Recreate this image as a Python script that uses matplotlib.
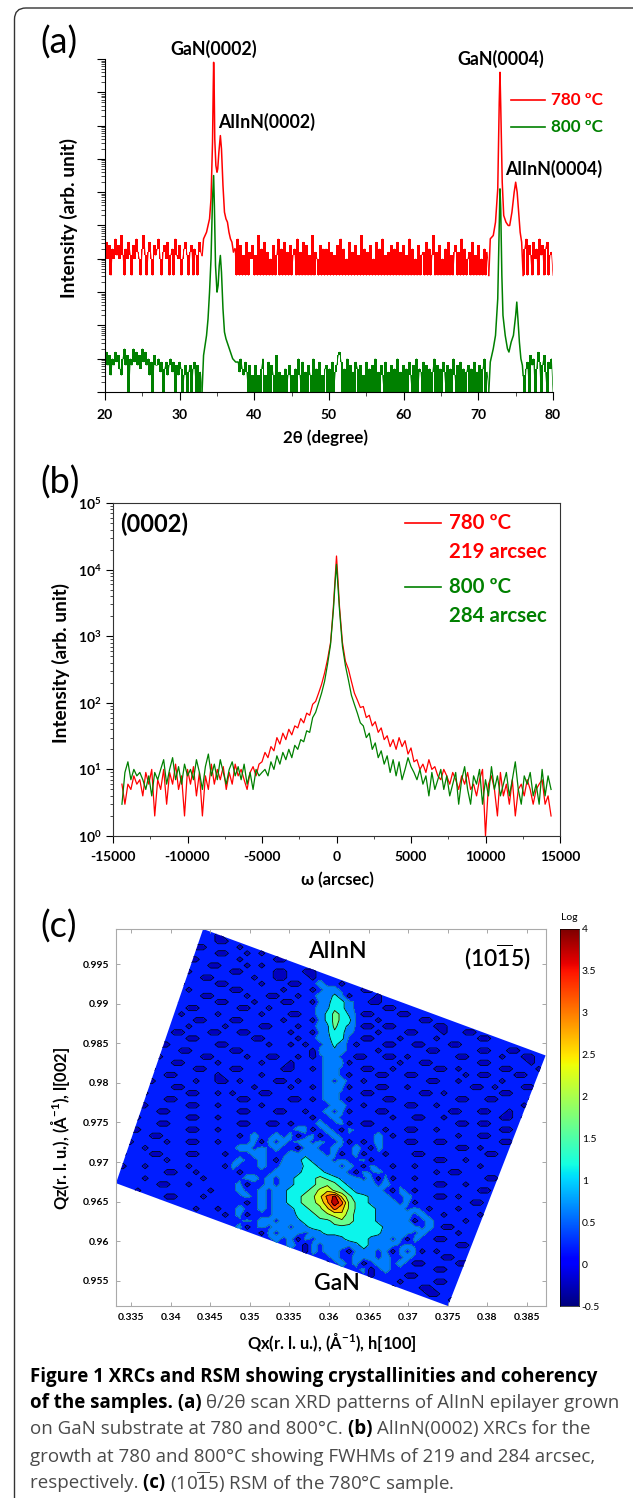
#!/usr/bin/env python3
"""XRD figure: theta/2theta scans, rocking curves and reciprocal space map"""
import numpy as np
import matplotlib
matplotlib.use('Agg')
import matplotlib.pyplot as plt
from matplotlib.colors import Normalize
from matplotlib.patches import FancyBboxPatch, Polygon
from matplotlib.ticker import MultipleLocator, LogLocator, NullFormatter

plt.rcParams['font.family'] = ['Lato', 'DejaVu Sans']
plt.rcParams['mathtext.fontset'] = 'custom'
plt.rcParams['mathtext.rm'] = 'Lato'
plt.rcParams['mathtext.bf'] = 'Lato:bold'
plt.rcParams['mathtext.it'] = 'Open Sans'
plt.rcParams['mathtext.default'] = 'regular'
plt.rcParams['path.simplify'] = False

W, H = 633, 1498
RED = '#ff0000'
GREEN = '#008000'

# Panel (a): log10(intensity) * 10, axis has no labels
A_RED_LEFT = [41,45,40,44,35,43,40,46,41,44,40,47,41,35,43,40,45,41,35,44,40,46,42,40,35,43,47,41,35,42,45,40,35,
              44,41,43,46,40,35,42,44,40,45,35,41,43,35,46,41,40,44,35,40,43,45,41,35,42,44,35,43,41,35,45,42,41]
A_RED_P1_X = [33.2,33.4,33.6,33.8,34.0,34.2,34.4,34.5,34.55,34.62,34.7,34.85,35.0,35.1,35.25,35.45,35.6,35.8,36.0,36.2,36.4,36.6,36.8,37.0,37.2]
A_RED_P1 = [46,47,48,50,52,58,75,92,99,92,76,68,66,67,72,77,73,62,54,52,51,48,46,45,42]
A_RED_MID = [43,35,46,35,44,35,41,35,45,35,42,40,44,35,41,35,47,35,43,35,45,35,42,35,40,35,44,35,41,46,35,43,35,45,35,42,35,44,35,41,
             43,35,46,35,42,35,45,35,44,35,41,35,47,35,42,40,35,44,35,43,
             35,43,35,45,35,42,35,41,35,44,35,46,35,43,35,40,35,45,35,42,35,44,35,41,35,47,35,43,35,42,35,44,35,40,35,45,35,43,35,46,35,41,35,42,35,44,35,43,35,45,
             35,42,35,44,35,41,35,46,35,43,35,40,35,44,35,41,42,35,45,35,43,35,41,47,35,42,35,44,35,40,35,43,35,45,35,41,35,42,44,35,42,35,46,35,43,35,40,42,35,45,35,41,35,44,35,40,35,43,35,42,35]
A_RED_P2_X = [71.6,72.0,72.3,72.6,72.8,72.9,73.0,73.2,73.4,73.7,74.0,74.2,74.5,74.8,75.0,75.2,75.4,75.6,75.8]
A_RED_P2 = [46,47,51,61,87,96,86,63,53,51,50,50,54,60,63,60,54,48,45]
A_RED_RIGHT = [35,43,46,35,44,41,35,45,40,43,35,46,41,44,35,43,45,35,41,42,35]

A_GRN_LEFT = [10,12,8,11,5,10,8,12,9,11,7,5,10,13,8,11,0,10,8,13,9,12,8,11,7,13,9,12,8,10,5,9,0,11,8,
              8,10,6,9,0,7,9,5,8,10,6,9,0,8,5,9,7,0,5,8,0,6,8,0,7,9,0,8,0,6,0]
A_GRN_P1_X = [33.2,33.4,33.6,33.8,34.0,34.2,34.4,34.55,34.65,34.8,35.0,35.15,35.3,35.45,35.6,35.8,36.0,36.2,36.5,36.8,37.1,37.5]
A_GRN_P1 = [11,14,17,22,30,40,58,65,56,38,30,32,38,41,36,25,18,16,14,12,10,9]
A_GRN_MID = [9,6,10,7,5,9,6,0,8,0,5,0,8,0,5,0,7,10,0,5,0,9,0,8,5,0,11,0,6,0,5,0,7,0,5,8,0,5,0,7,0,10,5,0,9,0,6,0,8,5,0,10,0,7,0,9,0,5,0,7,
             8,0,7,0,9,0,6,8,11,12,9,0,7,0,10,0,8,0,6,0,9,7,0,8,0,5,0,9,0,7,0,8,0,10,0,6,0,8,5,0,9,0,6,0,8,0,7,0,10,0,
             6,0,8,0,7,0,9,5,0,8,0,10,0,7,6,0,9,0,8,0,7,0,6,10,0,8,0,7,0,9,6,0,8,0,7,0,10,5,0,8,0,9,0,7,0,6,8,0,7,0,9,0,6,0,8,0,7,10,0,6,0]
A_GRN_P2_X = [71.6,71.8,72.0,72.3,72.6,72.8,72.9,73.0,73.15,73.3,73.6,73.9,74.1,74.4,74.7,75.0,75.15,75.3,75.5,75.7,75.9]
A_GRN_P2 = [9,11,13,17,28,50,61,55,35,23,17,13,12,15,17,23,27,22,15,10,8]
A_GRN_RIGHT = [5,0,7,9,0,11,8,10,0,7,12,9,0,8,11,6,0,9,7,10,0]

A_XTICKS = [20, 30, 40, 50, 60, 70, 80]

# Panel (b): counts
B_X_CENTER = [-1200,-1000,-800,-600,-400,-300,-200,-100,0,100,200,300,400,600,800,1000,1200]
B_RED_LEFT = [6,3,6,5,8,6,7,4,9,6,10,2,7,5,10,3,9,6,12,5,8,2,10,6,11,4,9,2,8,5,12,6,10,7,11,5,9,6,12,8,10,7,5,9,11,8,12,
              13,18,15,22,19,30,24,35,28,40,33,45,42,58,50,70,65,95,105]
B_RED_CENTER = [140,190,280,450,800,1500,3000,7000,16000,7000,2800,1500,800,420,320,210,140]
B_RED_RIGHT = [110,85,88,60,65,45,52,36,42,28,32,22,28,20,30,22,27,17,21,13,14,10,12,9,14,10,11,8,7,10,
               8,6,9,7,5,8,6,9,5,6,4,7,10,1,6,8,5,2,9,4,6,3,7,2,5,6,4,7,5,3,5,6,7,3,4,2]
B_GRN_LEFT = [3,9,13,7,10,8,9,7,5,8,4,9,7,10,14,6,10,15,7,11,6,12,8,10,7,14,9,5,11,17,8,12,7,14,9,6,10,13,8,11,7,12,6,9,5,10,8,9,
              10,8,13,10,16,12,18,14,20,15,23,20,28,26,38,36,60,72]
B_GRN_CENTER = [100,140,210,380,750,1400,2600,6000,12000,5500,2500,1300,700,360,220,130,95]
B_GRN_RIGHT = [70,50,45,30,35,20,25,15,19,12,16,9,14,8,13,7,10,15,11,9,7,10,6,8,4,9,5,7,10,5,
               8,4,6,9,3,7,11,5,3,8,6,10,3,7,4,11,5,8,4,6,9,4,7,13,5,3,8,6,9,4,6,3,10,4,8,5]
B_XTICKS = [-15000, -10000, -5000, 0, 5000, 10000, 15000]

# Panel (c): log intensity on a 60 x 63 grid, top row first, one level char per cell.
# '.' is outside the scanned area, blanks only split the row into tens
C_ROWS = [
    ".......... ..22",
    ".......... .02202",
    ".......... .2220022",
    ".......... 20022220",
    ".......... 2222002202 0",
    ".......... 0022222022 2200",
    ".......... 2220022202 022222",
    ".......... 0222220022 22002200",
    ".........2 2200222220 2200222022",
    ".........0 2222002222 0222002232 202",
    ".........2 0222220022 2220222023 3222002",
    "........22 2200222202 2002202233 5302220",
    "........02 2222002220 2220022034 5532200222",
    "........22 0022222002 2022222234 6532222002 22",
    "........20 2222022222 0222002235 7642002220 0222",
    ".......022 2002220022 2220222035 7652220222 220022",
    ".......222 0222202222 0022202234 7542002002 22220022",
    ".......200 2220022002 2222022034 6532220222 0022202200",
    "......2222 0022222220 0222202234 5522002220 2222022222 00",
    "......0022 2222002222 2022020223 5320222002 2002220022 2222",
    "......2220 0222220022 2222222033 4322220222 2220022222 002200",
    "......0222 2200222202 2002202023 3220022002 0222222002 222022002",
    ".....22200 2222022222 0222022223 3302222220 2200222222 002222202",
    ".....02222 2002220022 2220022023 3222002202 2222002022 222002220",
    ".....22002 2222022222 0222222223 3202220022 0022222202 002220022",
    "....002222 2022002022 2200202223 2322022222 2220022022 222022222",
    "....222200 2222222220 2222022023 3302220022 0222222220 020222002",
    "....022222 0022020222 0022222223 3222002222 2200202222 222002222",
    "...2222002 2222222002 2222002023 3202222002 2222222002 200222200",
    "...0022222 0022022222 0222222222 3322022222 0022022222 222222022",
    "...2220022 2222222002 2200220223 2302220022 2222220022 002202222",
    "..20222222 0022022222 2222222022 3222222202 2002202222 2220020",
    "..22220022 2222222002 2002022232 2302002222 2222222002 0022222",
    "..00222222 0022022222 2222233023 2032222022 0022022222 222002",
    ".222200222 2222222023 2232302302 3222223202 2222222022 002222",
    ".002222022 0022022223 0323233232 2302023222 0022002222 222002",
    ".222022222 2222222332 3232203322 3223203222 2222222002 022222",
    "2022200222 0022202223 3222334332 3023022022 2002222222 20022",
    "2222222022 2222222322 3203345433 2322302222 2222002202 22222",
    "0022022222 0222203222 3223335543 3232032202 2022222222 0222",
    "2222222002 2022222022 2233345554 3320323222 2222020022 222200",
    ".222022222 2202222233 2323455676 5433230302 2022222222 20022",
    "..22220022 0222222302 2323455678 7543332322 2222002202 222",
    "...0222222 2220222322 323455679a 8754333203 2022222222 0022",
    "....222002 2202222232 32345678ad fa75543322 3222002022 22",
    "......0222 2222222202 323456789c gd86543332 3022222220 02",
    ".........2 2022022322 323345678a db86554333 2320222022 22",
    ".......... .222202302 2233355678 9a76554333 3232202222 0",
    ".......... ...2222232 3323345566 7876554333 3023222202 2",
    ".......... .....22302 3233234556 6665555433 3323200222 2",
    ".......... ........22 0323332345 5555555333 3232222022",
    ".......... .......... 2232303233 3455543323 0322002222",
    ".......... .......... ..22320323 3334543332 3222222002",
    ".......... .......... .....20323 3203432303 2302022222",
    ".......... .......... .......222 3223332322 3222200222",
    ".......... .......... .........0 2323023323 2002222002",
    ".......... .......... .......... ..22302322 2222002222",
    ".......... .......... .......... ....202222 0022222",
    ".......... .......... .......... ......2220 2222002",
    ".......... .......... .......... ........02 2200222",
    ".......... .......... .......... .......... 222002",
    ".......... .......... .......... .......... ...2220",
    ".......... .......... .......... .......... .....22",
]
C_LEVELS = [-0.5, 0, 0.5, 1, 1.5, 2, 2.5, 3, 3.5, 4]
C_BAND_VALUES = [-0.25, 0.2, 0.62, 1.15, 1.65, 2.2, 2.7, 3.2, 3.75]
C_QX_LIM = (0.33306, 0.38745)
C_QZ_LIM = (0.95184, 0.99942)
C_CORNERS_QX = [0.34408, 0.38740, 0.37505, 0.33306]
C_CORNERS_QZ = [0.99942, 0.98346, 0.95184, 0.96734]
C_XTICKS = [0.335, 0.34, 0.345, 0.35, 0.355, 0.36, 0.365, 0.37, 0.375, 0.38, 0.385]
C_XLABELS = ['0.335', '0.34', '0.345', '0.35', '0.335', '0.36', '0.365', '0.37', '0.375', '0.38', '0.385']
C_YTICKS = [0.955, 0.96, 0.965, 0.97, 0.975, 0.98, 0.985, 0.99, 0.995]
C_YLABELS = ['0.955', '0.96', '0.965', '0.97', '0.975', '0.98', '0.985', '0.99', '0.995']
C_CB_TICKS = [-0.5, 0, 0.5, 1, 1.5, 2, 2.5, 3, 3.5, 4]
C_CB_LABELS = ['-0.5', '0', '0.5', '1', '1.5', '2', '2.5', '3', '3.5', '4']


def ax_px(left, top, right, bottom):
    return fig.add_axes([left / W, 1 - bottom / H, (right - left) / W, (bottom - top) / H])


def txt(x, y, s, size=12, weight='bold', color='black', ha='center', **kw):
    return fig.text(x / W, 1 - y / H, s, fontsize=size, fontweight=weight, color=color,
                    ha=ha, va='center', **kw)


def runs(x, y, parts, size=13.5):
    """Caption line with mixed weights"""
    renderer = fig.canvas.get_renderer()
    for s, weight in parts:
        color = 'black' if weight == 'bold' else '#4a4a4a'
        t = fig.text(x / W, 1 - y / H, s, fontsize=size, fontweight=weight, color=color,
                     family=['Open Sans', 'DejaVu Sans'], ha='left', va='center')
        x = t.get_window_extent(renderer).x1


def decode_map():
    rows = []
    for row in C_ROWS:
        row = row.replace(' ', '').ljust(60, '.')[:60]
        vals = []
        for ch in row:
            if ch == '.':
                vals.append(0.4)
            elif ch == '0':
                vals.append(-0.3)
            else:
                vals.append(int(ch, 36) * 0.25 - 0.1)
        rows.append(vals)
    return np.array(rows)


def noise_band(ax, x0, x1, vals, color):
    """Scan too dense to resolve: every column spans what the trace covers between two samples"""
    y = np.array(vals) / 10
    x = np.linspace(x0, x1, len(y))
    lo = np.minimum(y[:-1], y[1:])
    hi = np.maximum(y[:-1], y[1:])
    ax.fill_between(x[:-1], 10 ** lo, 10 ** hi, step='post', color=color, lw=0)
    ax.semilogy(x, 10 ** y, color=color, lw=0.5)
    return x


def draw_a():
    ax = ax_px(105, 59, 553, 392)
    noise_band(ax, 20, 33, A_RED_LEFT, RED)
    noise_band(ax, 37.4, 71.4, A_RED_MID, RED)
    noise_band(ax, 76, 80, A_RED_RIGHT, RED)
    ax.semilogy([33] + A_RED_P1_X + [37.4], 10 ** (np.r_[A_RED_LEFT[-1], A_RED_P1, A_RED_MID[0]] / 10), color=RED, lw=1.1)
    ax.semilogy([71.4] + A_RED_P2_X + [76], 10 ** (np.r_[A_RED_MID[-1], A_RED_P2, A_RED_RIGHT[0]] / 10), color=RED, lw=1.1)
    noise_band(ax, 20, 33, A_GRN_LEFT, GREEN)
    noise_band(ax, 37.8, 71.4, A_GRN_MID, GREEN)
    noise_band(ax, 76, 80, A_GRN_RIGHT, GREEN)
    ax.semilogy([33] + A_GRN_P1_X + [37.8], 10 ** (np.r_[A_GRN_LEFT[-1], A_GRN_P1, A_GRN_MID[0]] / 10), color=GREEN, lw=1.1)
    ax.semilogy([71.4] + A_GRN_P2_X + [76], 10 ** (np.r_[A_GRN_MID[-1], A_GRN_P2, A_GRN_RIGHT[0]] / 10), color=GREEN, lw=1.1)
    ax.set_xlim(20, 80)
    ax.set_ylim(1, 1e10)
    ax.spines[['top', 'right']].set_visible(False)
    ax.set_xticks(A_XTICKS)
    ax.xaxis.set_minor_locator(MultipleLocator(5))
    ax.yaxis.set_major_locator(LogLocator(base=10, numticks=12))
    ax.yaxis.set_minor_locator(LogLocator(base=10, subs=np.arange(2, 10), numticks=12))
    ax.yaxis.set_major_formatter(NullFormatter())
    ax.yaxis.set_minor_formatter(NullFormatter())
    ax.tick_params(which='major', length=6, width=0.8)
    ax.tick_params(which='minor', length=3, width=0.5)
    for lab in ax.get_xticklabels():
        lab.set_fontweight('bold')
        lab.set_fontsize(10)
    ax.tick_params(axis='x', pad=6)

    txt(69, 218, 'Intensity (arb. unit)', size=13.7, rotation=90)
    txt(326, 438, '2θ (degree)', size=12.2)
    txt(214, 49, 'GaN(0002)', size=12.8)
    txt(267, 122, 'AlInN(0002)', size=12.8)
    txt(501, 59, 'GaN(0004)', size=12.8)
    txt(554, 169, 'AlInN(0004)', size=12.8)
    for y, label, col in [(100, '780 ºC', RED), (127, '800 ºC', GREEN)]:
        fig.add_artist(plt.Line2D([511 / W, 545 / W], [1 - y / H] * 2, color=col, lw=1.2))
        txt(551, y, label, size=12.3, color=col, ha='left')


def draw_b():
    ax = ax_px(113, 503, 560, 836)
    x_left = np.linspace(-14400, -1400, len(B_RED_LEFT))
    x_right = np.linspace(1400, 14400, len(B_RED_RIGHT))
    x = np.r_[x_left, B_X_CENTER, x_right]
    ax.semilogy(x, np.r_[B_RED_LEFT, B_RED_CENTER, B_RED_RIGHT], color=RED, lw=0.9)
    ax.semilogy(x, np.r_[B_GRN_LEFT, B_GRN_CENTER, B_GRN_RIGHT], color=GREEN, lw=0.9)
    ax.set_xlim(-15000, 15000)
    ax.set_ylim(1, 1e5)
    ax.set_xticks(B_XTICKS)
    ax.set_xticklabels([str(v) for v in B_XTICKS], fontweight='bold', fontsize=10)
    ax.xaxis.set_minor_locator(MultipleLocator(2500))
    ax.set_yticks([1, 10, 100, 1e3, 1e4, 1e5])
    ax.set_yticklabels(['10$^{%d}$' % i for i in range(6)], fontweight='bold', fontsize=10)
    ax.yaxis.set_minor_locator(LogLocator(base=10, subs=np.arange(2, 10), numticks=8))
    ax.yaxis.set_minor_formatter(NullFormatter())
    ax.tick_params(which='major', length=5, width=0.8)
    ax.tick_params(which='minor', length=2.5, width=0.5)
    ax.tick_params(axis='x', pad=6)
    for s in ax.spines.values():
        s.set_color('#333333')

    txt(61, 663, 'Intensity (arb. unit)', size=13.7, rotation=90)
    txt(337, 880, 'ω (arcsec)', size=12)
    txt(120, 524, '(0002)', size=17, ha='left')
    for y1, y2, temp, fwhm, col in [(523, 552, '780 ºC', '219 arcsec', RED),
                                    (587, 616, '800 ºC', '284 arcsec', GREEN)]:
        fig.add_artist(plt.Line2D([405 / W, 441 / W], [1 - y1 / H] * 2, color=col, lw=1.2))
        txt(449, y1, temp, size=14.7, color=col, ha='left')
        txt(449, y2, fwhm, size=14.7, color=col, ha='left')


def draw_c():
    ax = ax_px(116, 929, 546, 1306)
    z = decode_map()
    qx = np.linspace(C_QX_LIM[0], C_QX_LIM[1], z.shape[1])
    qz = np.linspace(C_QZ_LIM[1], C_QZ_LIM[0], z.shape[0])
    jet = plt.get_cmap('jet')
    norm = Normalize(-0.5, 4)
    cf = ax.contourf(qx, qz, z, levels=C_LEVELS, colors=[jet(norm(v)) for v in C_BAND_VALUES])
    line_cols = ['black', '#14708f', 'black', 'black', 'black', 'black', 'black', 'black', 'black']
    cl = ax.contour(qx, qz, z, levels=C_LEVELS[1:], colors=line_cols, linewidths=0.55)
    clip = Polygon(np.c_[C_CORNERS_QX, C_CORNERS_QZ], closed=True, transform=ax.transData,
                   fc='none', ec='none')
    ax.add_patch(clip)
    cf.set_clip_path(clip)
    cl.set_clip_path(clip)
    ax.set_xlim(C_QX_LIM)
    ax.set_ylim(C_QZ_LIM)
    ax.set_xticks(C_XTICKS)
    ax.set_xticklabels(C_XLABELS, fontweight='bold', fontsize=7.5)
    ax.set_yticks(C_YTICKS)
    ax.set_yticklabels(C_YLABELS, fontweight='bold', fontsize=7.5)
    ax.tick_params(direction='in', length=3, width=0.6, color='#999999', top=True, right=True, pad=5)
    for s in ax.spines.values():
        s.set_color('#aaaaaa')

    txt(61, 1128, 'Qz(r. l. u.), (Å$^{-1}$), l[002]', size=11.9, rotation=90)
    txt(332, 1342, 'Qx(r. l. u.), (Å$^{-1}$), h[100]', size=11.9)
    txt(337, 952, 'AlInN', size=16.5, weight='semibold')
    txt(337, 1283, 'GaN', size=16.5, weight='semibold')
    txt(497, 957, r'(10$\overline{1}$5)', size=16.5, weight='semibold')

    cax = ax_px(560, 929, 579, 1306)
    gradient = np.linspace(4, -0.5, 256).reshape(-1, 1)
    cax.imshow(gradient, cmap='jet', vmin=-0.5, vmax=4, aspect='auto', extent=(0, 1, -0.5, 4))
    cax.set_xticks([])
    cax.yaxis.tick_right()
    cax.set_yticks(C_CB_TICKS)
    cax.set_yticklabels(C_CB_LABELS, fontsize=7.5)
    cax.tick_params(length=0, pad=2)
    for s in cax.spines.values():
        s.set_linewidth(0.5)
    txt(569, 918, 'Log', size=7.5, weight='normal')


fig = plt.figure(figsize=(W / 100, H / 100), dpi=100)

# rounded frame, runs off the right and bottom edge of the page
frame = FancyBboxPatch((14.5 / W, -0.02), 1.2, 1 + 0.02 - 8 / H, transform=fig.transFigure,
                       boxstyle='round,pad=0,rounding_size=0.018', mutation_aspect=W / H,
                       fc='none', ec='#333333', lw=1.0)
fig.add_artist(frame)

draw_a()
draw_b()
draw_c()

txt(40, 43, '(a)', size=26, weight='normal', ha='left')
txt(40, 483, '(b)', size=26, weight='normal', ha='left')
txt(40, 927, '(c)', size=26, weight='normal', ha='left')

runs(30, 1377, [('Figure 1 XRCs and RSM showing crystallinities and coherency', 'bold')])
runs(30, 1403, [('of the samples. (a) ', 'bold'), ('θ/2θ scan XRD patterns of AlInN epilayer grown', 'normal')])
runs(30, 1429, [('on GaN substrate at 780 and 800°C. ', 'normal'), ('(b) ', 'bold'), ('AlInN(0002) XRCs for the', 'normal')])
runs(30, 1457, [('growth at 780 and 800°C showing FWHMs of 219 and 284 arcsec,', 'normal')])
runs(30, 1483, [('respectively. ', 'normal'), ('(c) ', 'bold'), (r'(10$\mathit{\overline{1}}$5) RSM of the 780°C sample.', 'normal')])

fig.savefig('out.png', dpi=100)
plt.close(fig)
